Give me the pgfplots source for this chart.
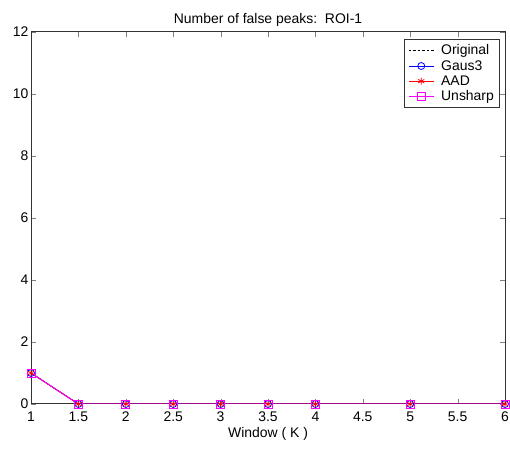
\documentclass[border=0pt]{standalone}
\usepackage{pgfplots}
\pgfplotsset{compat=1.18}
\usepackage{fontspec}
\setmainfont{Liberation Sans}
\definecolor{mblue}{RGB}{0,0,255}
\definecolor{mred}{RGB}{255,0,0}
\definecolor{mmag}{RGB}{255,0,255}
\pgfplotsset{
  mylegend/.style={legend image code/.code={
    \draw[mark repeat=2,mark phase=2,##1] plot coordinates {(0bp,0bp) (12.5bp,0bp) (25bp,0bp)};}}
}
\begin{document}
\begin{tikzpicture}[x=1bp,y=1bp]
\path[use as bounding box] (-31,-49) rectangle (479,404);
\begin{axis}[
  at={(0,0)}, anchor=south west,
  scale only axis, width=474bp, height=372bp,
  xmin=1, xmax=6, ymin=0, ymax=12,
  xtick={1,1.5,...,6}, ytick={0,2,...,12},
  xticklabels={1,1.5,2,2.5,3,3.5,4,4.5,5,5.5,6},
  tick align=inside, tick pos=both,
  major tick length=5bp,
  /pgf/number format/assume math mode=true,
  tick label style={font=\fontsize{14}{17}\selectfont},
  xticklabel style={yshift=-4bp},
  yticklabel style={xshift=1bp},
  label style={font=\fontsize{14}{17}\selectfont},
  title style={font=\fontsize{14}{17}\selectfont, yshift=-4bp},
  title={Number of false peaks:\ \ ROI-1},
  xlabel={Window ( K )},
  xlabel style={yshift=1bp},
  axis line style={black!80, line width=1pt},
  legend style={at={(0.99,0.98)}, anchor=north east, font=\fontsize{14}{17}\selectfont, draw=black!80, line width=0.8pt, row sep=0pt, column sep=5pt, inner xsep=4pt, inner ysep=3pt, cells={anchor=west}},
  legend cell align=left,
  mylegend,
]
\addplot[black, dash pattern=on 2.5pt off 2pt, line width=0.8pt] coordinates {(1,1) (1.5,0) (2,0) (2.5,0) (3,0) (3.5,0) (4,0) (5,0) (6,0)};
\addlegendentry{Original}
\addplot[mblue, mark=o, mark size=3.5bp, line width=0.8pt, mark options={solid}] coordinates {(1,1) (1.5,0) (2,0) (2.5,0) (3,0) (3.5,0) (4,0) (5,0) (6,0)};
\addlegendentry{Gaus3}
\addplot[mred, mark=asterisk, mark size=3.5bp, line width=0.8pt] coordinates {(1,1) (1.5,0) (2,0) (2.5,0) (3,0) (3.5,0) (4,0) (5,0) (6,0)};
\addlegendentry{AAD}
\addplot[mmag, mark=square, mark size=4bp, line width=0.9pt] coordinates {(1,1) (1.5,0) (2,0) (2.5,0) (3,0) (3.5,0) (4,0) (5,0) (6,0)};
\addlegendentry{Unsharp}
\end{axis}
\end{tikzpicture}
\end{document}
